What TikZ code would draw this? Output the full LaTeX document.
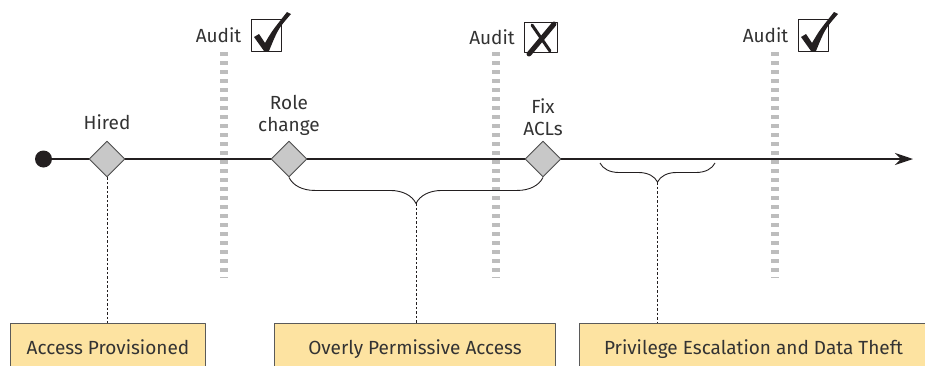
\documentclass[tikz,border=0pt]{standalone}
\usepackage{fontspec}
\setmainfont{Fira Sans}
\usetikzlibrary{positioning, arrows.meta, shapes.geometric, decorations.pathreplacing, calc}
\definecolor{lineC}{HTML}{231F20}
\definecolor{eventFill}{HTML}{C8C8C8}
\definecolor{eventStroke}{HTML}{4D4D4D}
\definecolor{auditC}{HTML}{BDBDBD}
\definecolor{boxFill}{HTML}{FDE3A1}
\definecolor{boxStroke}{HTML}{5A5A5A}
\definecolor{labelC}{HTML}{333333}
\def\lwLine{2.4pt}
\def\lineY{159}
\def\startX{43.5}
\def\endX{913}
\def\auditTopY{52}
\def\auditBotY{278}
\def\boxTopY{323}
\def\boxH{48}
\def\labelFont{\fontsize{19}{22}\selectfont}

\tikzset{
  event/.style={diamond, draw=eventStroke, fill=eventFill, line width=0.9pt,
    minimum size=36pt, inner sep=0pt},
  evlabel/.style={labelC, font=\labelFont, inner sep=0pt, align=center},
  auditbar/.style={auditC, line width=8pt, dash pattern=on 4pt off 5pt},
  auditbox/.style={draw=lineC, line width=1pt, fill=white, inner sep=0pt},
  phasebox/.style={draw=boxStroke, fill=boxFill, line width=1pt, anchor=north west,
    minimum height=\boxH pt, inner sep=0pt, text depth=0pt, font=\labelFont, text=labelC},
  period/.style={decorate, decoration={brace, mirror, amplitude=#1}, lineC, line width=0.9pt},
  link/.style={lineC, line width=0.8pt, dash pattern=on 2.5pt off 2pt}
}

\begin{document}
\begin{tikzpicture}[x=1pt, y=-1pt, line cap=butt, line join=round]
  \useasboundingbox (0,0) rectangle (925,365);

  % Audit bars (behind the timeline)
  \foreach \ax in {224, 496, 775}
    \draw[auditbar] (\ax, \auditTopY) -- (\ax, \auditBotY);

  % Timeline
  \coordinate (tstart) at (\startX, \lineY);
  \coordinate (tend) at (\endX, \lineY);
  \draw[lineC, line width=\lwLine, -{Stealth[length=18pt, width=12pt]}] (tstart) -- (tend);
  \fill[lineC] (tstart) circle (8.5pt);

  % Events
  \node[event] (hired) at (107, \lineY) {};
  \node[event] (role) at (289, \lineY) {};
  \node[event] (fixacl) at (543, \lineY) {};
  \node[evlabel, above=11pt of hired] {Hired};
  \node[evlabel, above=5pt of role] {Role\\change};
  \node[evlabel, above=5pt of fixacl] {Fix\\ACLs};

  % Audit check boxes
  \node[auditbox, minimum width=30pt, minimum height=32pt] (chk1) at (266, 35) {};
  \node[auditbox, minimum width=33pt, minimum height=30pt] (chk2) at (541, 37) {};
  \node[auditbox, minimum width=30pt, minimum height=32pt] (chk3) at (813, 35) {};
  \node[evlabel, left=9pt of chk1] {Audit};
  \node[evlabel, left=9pt of chk2] {Audit};
  \node[evlabel, left=9pt of chk3] {Audit};

  % Tick marks and cross
  \foreach \chk in {chk1, chk3}
    \fill[lineC, shift={(\chk.center)}]
      (-12, 2) -- (-7, -1) -- (-1, 8) .. controls (6, -4) .. (21, -23)
      -- (25, -21) .. controls (12, -6) .. (3, 16) -- (-2, 16) -- cycle;
  \begin{scope}[shift={(chk2.center)}, line cap=round]
    \draw[lineC, line width=5pt] (13, -13) -- (-12, 17);
    \draw[lineC, line width=3pt] (-9, -12) -- (9, 14);
  \end{scope}

  % Periods
  \draw[period=26pt] (role.south) -- (fixacl.south)
    coordinate[midway, yshift=-26pt] (permtip);
  \coordinate (escA) at (600, 163);
  \coordinate (escB) at (715, 163);
  \draw[period=19pt] (escA) -- (escB)
    coordinate[midway, yshift=-19pt] (esctip);

  % Phase boxes
  \node[phasebox, minimum width=195pt] (provbox) at (10, \boxTopY) {Access Provisioned};
  \node[phasebox, minimum width=281pt] (permbox) at (274, \boxTopY) {Overly Permissive Access};
  \node[phasebox, minimum width=348pt] (escbox) at (579, \boxTopY) {Privilege Escalation and Data Theft};

  % Links from the timeline to the phases
  \draw[link] (hired.south) -- (hired.south |- provbox.north);
  \draw[link] (permtip) -- (permtip |- permbox.north);
  \draw[link] (esctip) -- (esctip |- escbox.north);
\end{tikzpicture}
\end{document}
